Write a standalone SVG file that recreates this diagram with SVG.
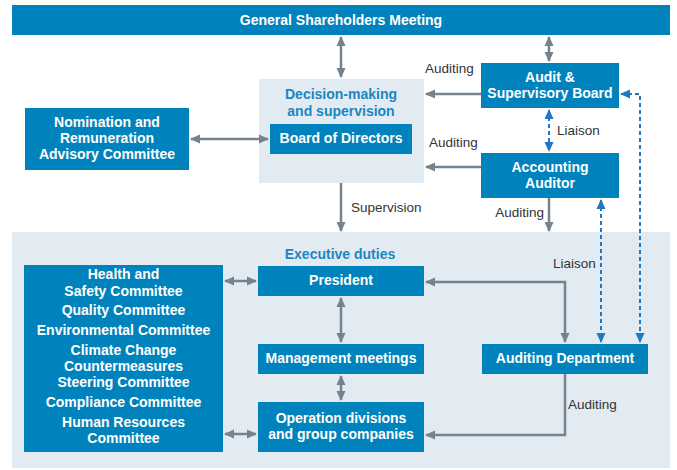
<svg xmlns="http://www.w3.org/2000/svg" width="677" height="470" viewBox="0 0 677 470">
<defs>
<style>
.area{fill:#e2ebf1}
.box{fill:#0083bc}
.t{font-family:"Liberation Sans",Arial,sans-serif;font-weight:bold;font-size:14px;fill:#fff;text-anchor:middle}
.title{font-family:"Liberation Sans",Arial,sans-serif;font-weight:bold;font-size:14px;fill:#1a87c2;text-anchor:middle}
.lbl{font-family:"Liberation Sans",Arial,sans-serif;font-size:13.5px;fill:#333}
.g{fill:none;stroke:#74838d;stroke-width:2.5}
.d{fill:none;stroke:#1f78c1;stroke-width:2;stroke-dasharray:4 3}
</style>
<marker id="ag" viewBox="0 0 10 10" refX="9" refY="5" markerWidth="10" markerHeight="10" orient="auto-start-reverse" markerUnits="userSpaceOnUse"><path d="M0,0.5 L10,5 L0,9.5 z" fill="#74838d"/></marker>
<marker id="ab" viewBox="0 0 10 10" refX="9" refY="5" markerWidth="10" markerHeight="10" orient="auto-start-reverse" markerUnits="userSpaceOnUse"><path d="M0,0.5 L10,5 L0,9.5 z" fill="#1f78c1"/></marker>
</defs>
<rect width="677" height="470" fill="#fff"/>

<g id="exec-area">
<rect class="area" x="12" y="232" width="658" height="236"/>
<text class="title" x="340" y="259">Executive duties</text>
</g>

<g id="gsm">
<rect class="box" x="12" y="5" width="658" height="30"/>
<text class="t" x="341" y="25">General Shareholders Meeting</text>
</g>

<g id="decision-area">
<rect class="area" x="259" y="79" width="165" height="104"/>
<text class="title" x="341" y="99">Decision-making</text>
<text class="title" x="341" y="116">and supervision</text>
</g>

<g id="board">
<rect class="box" x="270" y="124" width="142" height="30"/>
<text class="t" x="341" y="143">Board of Directors</text>
</g>

<g id="nomination">
<rect class="box" x="25" y="108" width="164" height="62"/>
<text class="t" x="107" y="127">Nomination and</text>
<text class="t" x="107" y="143">Remuneration</text>
<text class="t" x="107" y="159">Advisory Committee</text>
</g>

<g id="audit-board">
<rect class="box" x="481" y="63" width="138" height="45"/>
<text class="t" x="550" y="82">Audit &amp;</text>
<text class="t" x="550" y="98">Supervisory Board</text>
</g>

<g id="accounting-auditor">
<rect class="box" x="481" y="153" width="138" height="45"/>
<text class="t" x="550" y="172">Accounting</text>
<text class="t" x="550" y="188">Auditor</text>
</g>

<g id="committees">
<rect class="box" x="24" y="265" width="199" height="187"/>
<text class="t" x="123.5" y="279">Health and</text>
<text class="t" x="123.5" y="296">Safety Committee</text>
<text class="t" x="123.5" y="315">Quality Committee</text>
<text class="t" x="123.5" y="335">Environmental Committee</text>
<text class="t" x="123.5" y="355">Climate Change</text>
<text class="t" x="123.5" y="371">Countermeasures</text>
<text class="t" x="123.5" y="387">Steering Committee</text>
<text class="t" x="123.5" y="407">Compliance Committee</text>
<text class="t" x="123.5" y="427">Human Resources</text>
<text class="t" x="123.5" y="443">Committee</text>
</g>

<g id="president">
<rect class="box" x="258" y="266" width="166" height="30"/>
<text class="t" x="341" y="285">President</text>
</g>

<g id="management">
<rect class="box" x="258" y="344" width="166" height="30"/>
<text class="t" x="341" y="363">Management meetings</text>
</g>

<g id="operation">
<rect class="box" x="258" y="402" width="166" height="50"/>
<text class="t" x="341" y="423">Operation divisions</text>
<text class="t" x="341" y="439">and group companies</text>
</g>

<g id="auditing-dept">
<rect class="box" x="482" y="344" width="166" height="30"/>
<text class="t" x="565" y="363">Auditing Department</text>
</g>

<g id="connectors">
<path class="g" d="M341,37 V77" marker-start="url(#ag)" marker-end="url(#ag)"/>
<path class="g" d="M549,37 V61" marker-start="url(#ag)" marker-end="url(#ag)"/>
<path class="g" d="M191,139 H268" marker-start="url(#ag)" marker-end="url(#ag)"/>
<path class="g" d="M481,94 H426" marker-end="url(#ag)"/>
<path class="g" d="M481,167 H426" marker-end="url(#ag)"/>
<path class="g" d="M341,183 V231" marker-end="url(#ag)"/>
<path class="g" d="M549,198 V231" marker-end="url(#ag)"/>
<path class="d" d="M549,110 V151" marker-start="url(#ab)" marker-end="url(#ab)"/>
<path class="d" d="M601,200 V342" marker-start="url(#ab)" marker-end="url(#ab)"/>
<path class="d" d="M621,94 H640 V342" marker-start="url(#ab)" marker-end="url(#ab)"/>
<path class="g" d="M426,282 H565 V342" marker-start="url(#ag)" marker-end="url(#ag)"/>
<path class="g" d="M565,374 V435 H426" marker-end="url(#ag)"/>
<path class="g" d="M341,298 V342" marker-start="url(#ag)" marker-end="url(#ag)"/>
<path class="g" d="M341,376 V400" marker-start="url(#ag)" marker-end="url(#ag)"/>
<path class="g" d="M225,281 H256" marker-start="url(#ag)" marker-end="url(#ag)"/>
<path class="g" d="M225,434 H256" marker-start="url(#ag)" marker-end="url(#ag)"/>
<text class="lbl" x="425" y="73">Auditing</text>
<text class="lbl" x="429" y="147">Auditing</text>
<text class="lbl" x="557" y="135">Liaison</text>
<text class="lbl" x="351" y="212">Supervision</text>
<text class="lbl" x="544" y="217" text-anchor="end">Auditing</text>
<text class="lbl" x="553" y="268">Liaison</text>
<text class="lbl" x="568" y="409">Auditing</text>
</g>
</svg>
